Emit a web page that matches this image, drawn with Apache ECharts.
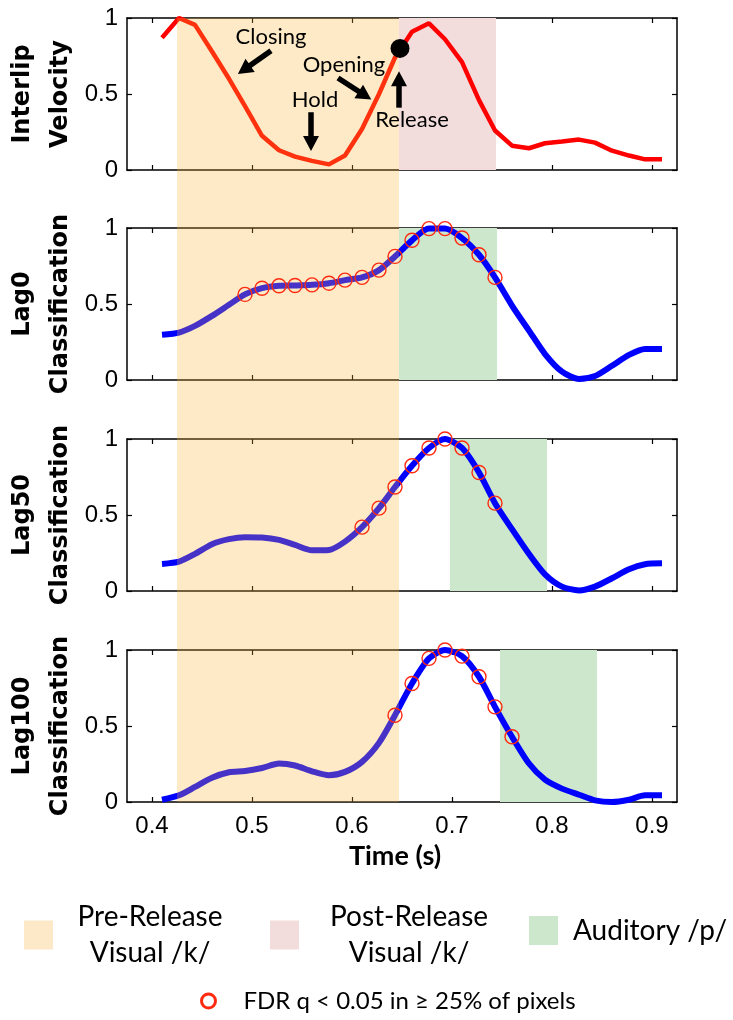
<!DOCTYPE html>
<html><head><meta charset="utf-8">
<script src="https://cdn.jsdelivr.net/npm/echarts@6/dist/echarts.min.js"></script>
<style>html,body{margin:0;padding:0;background:#fff}#c{width:733px;height:1020px}</style>
</head><body><div id="c"></div>
<script>
// ---- data ----
const times = [0.410,0.427,0.443,0.460,0.477,0.493,0.510,0.527,0.543,0.560,0.577,0.593,0.610,0.627,0.643,0.660,0.677,0.693,0.710,0.727,0.743,0.760,0.777,0.793,0.810,0.827,0.843,0.860,0.877,0.893,0.910];
const velocity = [0.87,1.0,0.955,0.78,0.60,0.42,0.225,0.13,0.088,0.06,0.037,0.095,0.27,0.50,0.74,0.91,0.965,0.86,0.71,0.46,0.26,0.16,0.143,0.176,0.187,0.20,0.18,0.127,0.095,0.07,0.07];
const lag0 = [0.297,0.312,0.356,0.422,0.495,0.563,0.604,0.62,0.622,0.626,0.637,0.657,0.675,0.723,0.813,0.919,0.996,0.996,0.934,0.824,0.675,0.49,0.325,0.171,0.055,0.007,0.026,0.094,0.165,0.204,0.204];
const lag50 = [0.178,0.193,0.244,0.308,0.341,0.354,0.352,0.336,0.303,0.268,0.27,0.325,0.42,0.545,0.684,0.824,0.941,1.0,0.941,0.78,0.578,0.407,0.244,0.11,0.029,0.004,0.029,0.084,0.143,0.176,0.182];
const lag100 = [0.015,0.044,0.099,0.16,0.196,0.204,0.224,0.253,0.24,0.202,0.176,0.198,0.264,0.389,0.571,0.78,0.945,1.0,0.96,0.824,0.626,0.429,0.253,0.147,0.088,0.048,0.011,0.0,0.015,0.044,0.044];
const sigLag0 = [5,6,7,8,9,10,11,12,13,14,15,16,17,18,19,20];
const sigLag50 = [12,13,14,15,16,17,18,19,20];
const sigLag100 = [14,15,16,17,18,19,20,21];
const xTicks = [0.4,0.5,0.6,0.7,0.8,0.9];
const yTicks = [0,0.5,1];
const preRelease = [0.425,0.647];
const postRelease = [0.647,0.744];
const auditory = [[0.647,0.745],[0.698,0.795],[0.748,0.845]];
const releasePoint = [0.648,0.80];
const panelNames = ['Interlip\nVelocity','Lag0\nClassification','Lag50\nClassification','Lag100\nClassification'];
const annotations = [
  {text:'Closing', x:0.519, y:0.875},
  {text:'Opening', x:0.592, y:0.69},
  {text:'Hold', x:0.563, y:0.46},
  {text:'Release', x:0.66, y:0.33}
];
const arrows = [
  [0.519,0.785,0.492,0.66],
  [0.586,0.605,0.613,0.49],
  [0.559,0.38,0.559,0.175],
  [0.647,0.41,0.647,0.60]
];
const legendPre = 'Pre-Release\nVisual /k/';
const legendPost = 'Post-Release\nVisual /k/';
const legendAud = 'Auditory /p/';
const legendSig = 'FDR q < 0.05 in \u2265 25% of pixels';

// ---- layout / style ----
const tops = [18,228,439,650];
const H = 152, L = 127, R = 56;
const XMIN = 0.375, XMAX = 0.925;
const black = '#000';
const lineSt = {color:black, width:1.5};
const tickSt = {color:black, width:1.2};

const grid = tops.map(t => ({left:L, right:R, top:t, height:H, outerBoundsMode:'none', containLabel:false}));
grid.push({left:L, right:R, top:tops[0], height:tops[3]+H-tops[0], outerBoundsMode:'none', containLabel:false});

const xAxis = [], yAxis = [];
tops.forEach((t,i) => {
  xAxis.push({gridIndex:i, type:'value', min:XMIN, max:XMAX, position:'bottom',
    axisLine:{show:true, onZero:false, lineStyle:lineSt},
    axisTick:{show:true, inside:true, length:5, customValues:xTicks, lineStyle:tickSt},
    axisLabel:{show:i===3, customValues:xTicks, formatter:v=>(+v).toFixed(1), fontFamily:'Liberation Sans', fontSize:24, color:black, margin:12},
    splitLine:{show:false},
    name: i===3 ? 'Time (s)' : '', nameLocation:'middle', nameGap:40, nameMoveOverlap:false,
    nameTextStyle:{fontFamily:'Lato', fontWeight:'bold', fontSize:27, color:black, lineHeight:28, padding:[0,14,0,0]}
  });
  xAxis.push({gridIndex:i, type:'value', min:XMIN, max:XMAX, position:'top',
    axisLine:{show:true, onZero:false, lineStyle:lineSt},
    axisTick:{show:true, inside:true, length:5, customValues:xTicks, lineStyle:tickSt},
    axisLabel:{show:false}, splitLine:{show:false}});
  yAxis.push({gridIndex:i, type:'value', min:0, max:1, interval:0.5, position:'left',
    axisLine:{show:true, onZero:false, lineStyle:lineSt},
    axisTick:{show:true, inside:true, length:5, lineStyle:tickSt},
    axisLabel:{fontFamily:'Liberation Sans', fontSize:24, color:black, margin:9},
    splitLine:{show:false},
    name:panelNames[i], nameLocation:'middle', nameRotate:90, nameGap:47, nameMoveOverlap:false,
    nameTextStyle:{fontFamily:'DejaVu Sans', fontWeight:'bold', fontSize:24, lineHeight:38, color:black}
  });
  yAxis.push({gridIndex:i, type:'value', min:0, max:1, interval:0.5, position:'right',
    axisLine:{show:true, onZero:false, lineStyle:lineSt},
    axisTick:{show:true, inside:true, length:5, lineStyle:tickSt},
    axisLabel:{show:false}, splitLine:{show:false}});
});
xAxis.push({gridIndex:4, type:'value', min:XMIN, max:XMAX, show:false});
yAxis.push({gridIndex:4, type:'value', min:0, max:1, show:false});

const pair = (a) => times.map((t,k) => [t, a[k]]);
const series = [];
// pink band (top panel)
series.push({type:'line', name:legendPost, xAxisIndex:0, yAxisIndex:0, data:[], z:1,
  markArea:{silent:true, z:1, itemStyle:{color:'#f3dcdc'}, data:[[{xAxis:postRelease[0]},{xAxis:postRelease[1]}]]}});
// green bands
auditory.forEach((b,j) => {
  series.push({type:'line', name:legendAud, xAxisIndex:2*(j+1), yAxisIndex:2*(j+1), data:[], z:1,
    markArea:{silent:true, z:1, itemStyle:{color:'#cce7cc'}, data:[[{xAxis:b[0]},{xAxis:b[1]}]]}});
});
// velocity line
series.push({type:'line', name:'velocity', xAxisIndex:0, yAxisIndex:0, data:pair(velocity),
  showSymbol:false, lineStyle:{color:'#ff0000', width:4.5}, itemStyle:{color:'#ff0000'}, z:2});
// classification lines
[lag0, lag50, lag100].forEach((arr,j) => {
  series.push({type:'line', name:'lag'+j, xAxisIndex:2*(j+1), yAxisIndex:2*(j+1), data:pair(arr),
    showSymbol:false, smooth:0.25, lineStyle:{color:'#0000ff', width:6}, itemStyle:{color:'#0000ff'}, z:2});
});
// orange band over all panels (semi-transparent, drawn above lines)
series.push({type:'line', name:legendPre, xAxisIndex:8, yAxisIndex:8, data:[], z:3,
  markArea:{silent:true, z:3, itemStyle:{color:'rgba(250,178,52,0.28)'}, data:[[{xAxis:preRelease[0]},{xAxis:preRelease[1]}]]}});
// significance circles
[[lag0,sigLag0],[lag50,sigLag50],[lag100,sigLag100]].forEach(([arr,sig],j) => {
  series.push({type:'scatter', name:legendSig, xAxisIndex:2*(j+1), yAxisIndex:2*(j+1),
    data:sig.map(k => [times[k], arr[k]]), symbol:'circle', symbolSize:14,
    itemStyle:{color:'rgba(0,0,0,0)', borderColor:'#ff2a10', borderWidth:1.4, opacity:1}, z:4});
});
// release dot
series.push({type:'scatter', name:'release', xAxisIndex:0, yAxisIndex:0, data:[releasePoint],
  symbolSize:19, itemStyle:{color:'#000', opacity:1}, z:5});
// annotation arrows
series.push({type:'line', name:'arrows', xAxisIndex:0, yAxisIndex:0, data:[], z:6,
  markLine:{silent:true, z:6, symbol:['none','triangle'], symbolSize:[16,15], animation:false,
    lineStyle:{color:'#000', width:5.5, type:'solid', opacity:1}, label:{show:false},
    emphasis:{disabled:true},
    data:arrows.map(a => [{coord:[a[0],a[1]]},{coord:[a[2],a[3]]}])}});
// annotation text
series.push({type:'scatter', name:'notes', xAxisIndex:0, yAxisIndex:0, z:6, symbolSize:0,
  itemStyle:{opacity:1},
  data:annotations.map(a => ({name:a.text, value:[a.x,a.y]})),
  label:{show:true, position:'inside', formatter:'{b}', fontFamily:'Lato', fontSize:22, color:'#000'}});

function richFmt(key){ return name => name.split('\n').map(s => '{'+key+'|'+s+'}').join('\n'); }
const legTxt = {fontFamily:'Lato', fontSize:28, lineHeight:36, color:'#000'};
const legend = [
  {left:24, top:903, padding:0, itemWidth:29, itemHeight:29, selectedMode:false,
   data:[{name:legendPre, icon:'rect', itemStyle:{color:'#fde9c8', borderWidth:0}}],
   formatter:richFmt('a'), textStyle:{rich:{a:Object.assign({width:184, align:'center'}, legTxt)}}},
  {left:270, top:903, padding:0, itemWidth:29, itemHeight:29, selectedMode:false,
   data:[{name:legendPost, icon:'rect', itemStyle:{color:'#f3dcdc', borderWidth:0}}],
   formatter:richFmt('b'), textStyle:{rich:{b:Object.assign({width:210, align:'center'}, legTxt)}}},
  {left:529, top:916, padding:0, itemWidth:29, itemHeight:29, selectedMode:false,
   data:[{name:legendAud, icon:'rect', itemStyle:{color:'#cce7cc', borderWidth:0}}],
   formatter:richFmt('c'), textStyle:{rich:{c:Object.assign({padding:[0,0,0,10]}, legTxt)}}},
  {left:200, top:989, padding:0, itemWidth:14, itemHeight:14, selectedMode:false,
   data:[{name:legendSig, icon:'circle', itemStyle:{color:'rgba(0,0,0,0)', borderColor:'#ff2a10', borderWidth:3}}],
   formatter:richFmt('d'), textStyle:{rich:{d:{fontFamily:'Lato', fontSize:24, lineHeight:28, color:'#000', padding:[0,0,0,23]}}}}
];

const chart = echarts.init(document.getElementById('c'), null, {renderer:'canvas'});
chart.setOption({backgroundColor:'#fff', animation:false, grid, xAxis, yAxis, series, legend});
</script></body></html>
